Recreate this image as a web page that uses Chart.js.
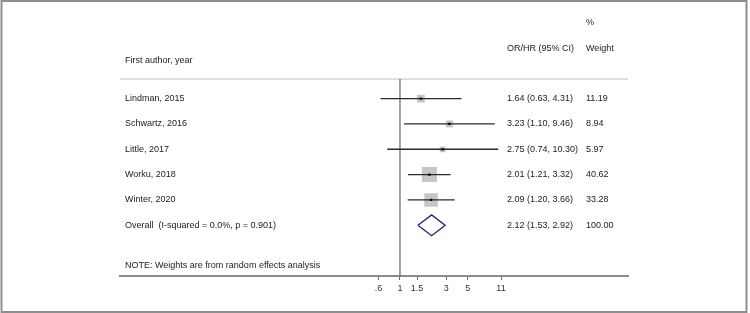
<!DOCTYPE html>
<html>
<head>
<meta charset="utf-8">
<script src="https://cdn.jsdelivr.net/npm/chart.js@4.4.0/dist/chart.umd.min.js"></script>
<style>
  body { margin: 0; background: #fff; }
  canvas { display: block; }
</style>
</head>
<body>
<canvas id="forest" width="750" height="313"></canvas>
<script>
// studies in the meta-analysis
const studies = ["Lindman, 2015", "Schwartz, 2016", "Little, 2017", "Worku, 2018", "Winter, 2020"];
const estimate = [1.64, 3.23, 2.75, 2.01, 2.09];
const lower = [0.63, 1.10, 0.74, 1.21, 1.20];
const upper = [4.31, 9.46, 10.30, 3.32, 3.66];
const weight = [11.19, 8.94, 5.97, 40.62, 33.28];

// pooled result
const overallLabel = "Overall  (I-squared = 0.0%, p = 0.901)";
const overallEst = 2.12;
const overallLower = 1.53;
const overallUpper = 2.92;
const overallWeight = 100.00;

// x axis
const tickValues = [0.6, 1, 1.5, 3, 5, 11];
const tickLabels = [".6", "1", "1.5", "3", "5", "11"];
const noteText = "NOTE: Weights are from random effects analysis";

// layout (in y units of the hidden scale, one unit = one row)
const X_MIN = 0.0013, X_MAX = 224;
const Y_MAX = 10.47;
const SEP_Y = 7.77;
const OVERALL_ROW = 2;
const FONT = '9px "Liberation Sans", Arial, sans-serif';

const rowOf = i => studies.length + 2 - i;   // 7,6,5,4,3
const maxW = Math.max(...weight);

const datasets = [];

// light separator under the header
datasets.push({
    data: [{ x: X_MIN, y: SEP_Y }, { x: X_MAX, y: SEP_Y }],
    showLine: true, borderColor: '#dedede', borderWidth: 2, pointRadius: 0, order: 9
});
// line of no effect
datasets.push({
    data: [{ x: 1, y: 0 }, { x: 1, y: SEP_Y }],
    showLine: true, borderColor: '#444', borderWidth: 1, pointRadius: 0, order: 8
});
// weight squares
datasets.push({
    data: studies.map((s, i) => ({ x: estimate[i], y: rowOf(i) })),
    pointStyle: 'rect',
    pointRadius: weight.map(w => 10.6 * Math.sqrt(w / maxW)),
    backgroundColor: '#c6c6c6', borderWidth: 0, order: 6
});
// confidence intervals
studies.forEach((s, i) => {
    datasets.push({
        data: [{ x: lower[i], y: rowOf(i) }, { x: upper[i], y: rowOf(i) }],
        showLine: true, borderColor: '#2a2a2a', borderWidth: 1.3, pointRadius: 0, order: 3
    });
});
// point estimates
datasets.push({
    data: studies.map((s, i) => ({ x: estimate[i], y: rowOf(i) })),
    pointStyle: 'rect', pointRadius: 1.6,
    backgroundColor: '#000', borderWidth: 0, order: 1
});
// pooled diamond
const dh = 0.41;
datasets.push({
    data: [
        { x: overallLower, y: OVERALL_ROW },
        { x: overallEst, y: OVERALL_ROW + dh },
        { x: overallUpper, y: OVERALL_ROW },
        { x: overallEst, y: OVERALL_ROW - dh },
        { x: overallLower, y: OVERALL_ROW }
    ],
    showLine: true, borderColor: '#23236e', borderWidth: 1.3,
    backgroundColor: '#fff', fill: false, pointRadius: 0, order: 1
});

// frame + text table
const tablePlugin = {
    id: 'table',
    beforeDraw(chart) {
        const ctx = chart.ctx;
        ctx.save();
        ctx.fillStyle = '#fff';
        ctx.fillRect(0, 0, chart.width, chart.height);
        ctx.strokeStyle = '#8e8e8e';
        ctx.lineWidth = 2;
        ctx.strokeRect(1.5, 1, 745, 311);
        ctx.restore();
    },
    afterDraw(chart) {
        const ctx = chart.ctx;
        const area = chart.chartArea;
        const ys = chart.scales.y;
        const colName = area.left + 5;
        const colCi = area.left + 387;
        const colW = area.left + 466;
        ctx.save();
        ctx.font = FONT;
        ctx.fillStyle = '#222';
        ctx.textBaseline = 'middle';
        ctx.textAlign = 'left';

        ctx.fillText("%", colW, ys.getPixelForValue(9.99));
        ctx.fillText("OR/HR (95% CI)", colCi, ys.getPixelForValue(8.98));
        ctx.fillText("Weight", colW, ys.getPixelForValue(8.98));
        ctx.fillText("First author, year", colName, ys.getPixelForValue(8.49));

        studies.forEach((s, i) => {
            const y = ys.getPixelForValue(rowOf(i));
            ctx.fillText(s, colName, y);
            ctx.fillText(`${estimate[i].toFixed(2)} (${lower[i].toFixed(2)}, ${upper[i].toFixed(2)})`, colCi, y);
            ctx.fillText(weight[i].toFixed(2), colW, y);
        });
        const yo = ys.getPixelForValue(OVERALL_ROW);
        ctx.fillText(overallLabel, colName, yo);
        ctx.fillText(`${overallEst.toFixed(2)} (${overallLower.toFixed(2)}, ${overallUpper.toFixed(2)})`, colCi, yo);
        ctx.fillText(overallWeight.toFixed(2), colW, yo);

        ctx.fillText(noteText, colName, ys.getPixelForValue(0.42));
        ctx.restore();
    }
};

new Chart(document.getElementById('forest'), {
    type: 'scatter',
    data: { datasets: datasets },
    options: {
        responsive: false,
        animation: false,
        layout: { padding: { left: 120, right: 122, top: 2, bottom: 0 } },
        plugins: { legend: { display: false }, tooltip: { enabled: false } },
        scales: {
            x: {
                type: 'logarithmic',
                position: 'bottom',
                min: X_MIN,
                max: X_MAX,
                afterBuildTicks: s => { s.ticks = tickValues.map(v => ({ value: v })); },
                afterFit: s => { s.height = 37; },
                ticks: {
                    autoSkip: false, maxRotation: 0, padding: 3,
                    color: '#333',
                    font: { family: '"Liberation Sans", Arial, sans-serif', size: 9 },
                    callback: (v, i) => tickLabels[i]
                },
                grid: { drawOnChartArea: false, drawTicks: true, tickLength: 4, color: '#666' },
                border: { display: true, color: '#8a8a8a', width: 2 }
            },
            y: { type: 'linear', min: 0, max: Y_MAX, display: false }
        }
    },
    plugins: [tablePlugin]
});
</script>
</body>
</html>
